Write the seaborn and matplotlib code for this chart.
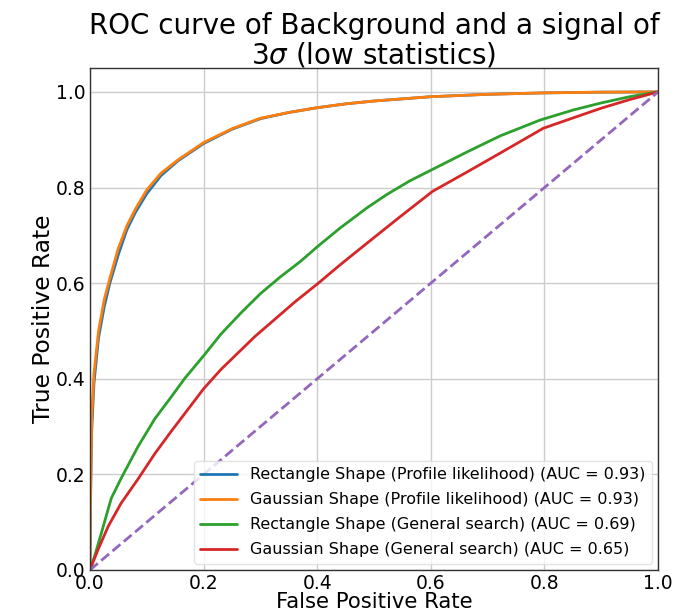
import numpy as np
import pandas as pd
import matplotlib
matplotlib.use("Agg")
import matplotlib.pyplot as plt
import seaborn as sns

# ---- data ----
fpr_rect_pl = [0.0, 0.001, 0.003, 0.007, 0.015, 0.025, 0.035, 0.050, 0.065, 0.080, 0.100, 0.125, 0.155, 0.200, 0.250, 0.300, 0.350, 0.400, 0.450, 0.500, 0.600, 0.700, 0.800, 0.900, 1.0]
tpr_rect_pl = [0.0, 0.140, 0.290, 0.390, 0.485, 0.550, 0.600, 0.660, 0.712, 0.748, 0.787, 0.825, 0.856, 0.892, 0.922, 0.944, 0.957, 0.967, 0.975, 0.981, 0.990, 0.995, 0.998, 0.9995, 1.0]

fpr_gaus_pl = [0.0, 0.001, 0.003, 0.007, 0.015, 0.025, 0.035, 0.050, 0.065, 0.080, 0.100, 0.125, 0.155, 0.200, 0.250, 0.300, 0.350, 0.400, 0.450, 0.500, 0.600, 0.700, 0.800, 0.900, 1.0]
tpr_gaus_pl = [0.0, 0.160, 0.318, 0.410, 0.499, 0.565, 0.610, 0.673, 0.720, 0.755, 0.795, 0.830, 0.858, 0.894, 0.923, 0.945, 0.957, 0.967, 0.975, 0.981, 0.990, 0.995, 0.998, 0.9995, 1.0]

fpr_rect_gs = [0.0, 0.008, 0.020, 0.0375, 0.055, 0.0845, 0.114, 0.143, 0.167, 0.200, 0.231, 0.266, 0.300, 0.335, 0.370, 0.400, 0.440, 0.487, 0.522, 0.563, 0.603, 0.663, 0.722, 0.792, 0.850, 0.900, 0.950, 1.0]
tpr_rect_gs = [0.0, 0.028, 0.077, 0.150, 0.192, 0.258, 0.316, 0.362, 0.401, 0.448, 0.494, 0.538, 0.578, 0.613, 0.645, 0.676, 0.715, 0.757, 0.785, 0.814, 0.838, 0.874, 0.908, 0.941, 0.962, 0.977, 0.990, 1.0]

fpr_gaus_gs = [0.0, 0.014, 0.032, 0.055, 0.0845, 0.114, 0.143, 0.1725, 0.200, 0.231, 0.290, 0.360, 0.402, 0.440, 0.487, 0.546, 0.603, 0.663, 0.722, 0.798, 0.839, 0.900, 0.950, 1.0]
tpr_gaus_gs = [0.0, 0.042, 0.091, 0.140, 0.190, 0.243, 0.290, 0.336, 0.379, 0.420, 0.488, 0.560, 0.600, 0.638, 0.683, 0.739, 0.792, 0.832, 0.872, 0.924, 0.941, 0.966, 0.984, 1.0]

diag = [0.0, 1.0]

labels = [
    "Rectangle Shape (Profile likelihood) (AUC = 0.93)",
    "Gaussian Shape (Profile likelihood) (AUC = 0.93)",
    "Rectangle Shape (General search) (AUC = 0.69)",
    "Gaussian Shape (General search) (AUC = 0.65)",
]
title = "ROC curve of Background and a signal of\n3$\\sigma$ (low statistics)"
xticks = [0.0, 0.2, 0.4, 0.6, 0.8, 1.0]
yticks = [0.0, 0.2, 0.4, 0.6, 0.8, 1.0]

# ---- plot ----
sns.set_style("white")
plt.rcParams["font.family"] = ["DejaVu Sans"]
plt.rcParams["text.color"] = "black"
plt.rcParams["axes.labelcolor"] = "black"
plt.rcParams["xtick.color"] = "black"
plt.rcParams["ytick.color"] = "black"

fig = plt.figure(figsize=(6.92, 6.15), dpi=100)
ax = fig.add_axes([0.130, 0.0732, 0.821, 0.8162])

colors = ["#1f77b4", "#ff7f0e", "#2ca02c", "#d62728"]
series = [(fpr_rect_pl, tpr_rect_pl), (fpr_gaus_pl, tpr_gaus_pl),
          (fpr_rect_gs, tpr_rect_gs), (fpr_gaus_gs, tpr_gaus_gs)]
for (fx, ty), c, lab in zip(series, colors, labels):
    df = pd.DataFrame({"fpr": fx, "tpr": ty})
    sns.lineplot(data=df, x="fpr", y="tpr", ax=ax, color=c, lw=2,
                 label=lab, sort=False, estimator=None)

sns.lineplot(x=diag, y=diag, ax=ax, color="#9467bd", lw=2, linestyle="--",
             estimator=None)

ax.set_xlim(0.0, 1.0)
ax.set_ylim(0.0, 1.05)
ax.set_xticks(xticks)
ax.set_yticks(yticks)
ax.grid(True, color="#cccccc", lw=1)
for s in ax.spines.values():
    s.set_color("#333333")
    s.set_linewidth(1)
ax.tick_params(axis="both", labelsize=13.5, length=2, pad=1, color="#333333")
ax.set_xlabel("False Positive Rate", fontsize=15.2, labelpad=-1)
ax.set_ylabel("True Positive Rate", fontsize=16.8, labelpad=1)
ax.set_title(title, fontsize=20, pad=3, linespacing=1.05)

leg = ax.legend(loc="lower right", fontsize=11.5, frameon=True, handlelength=2.3,
                borderaxespad=0.4, labelspacing=0.62)
leg.get_frame().set_edgecolor("#dddddd")

fig.savefig("out.png", dpi=100)
